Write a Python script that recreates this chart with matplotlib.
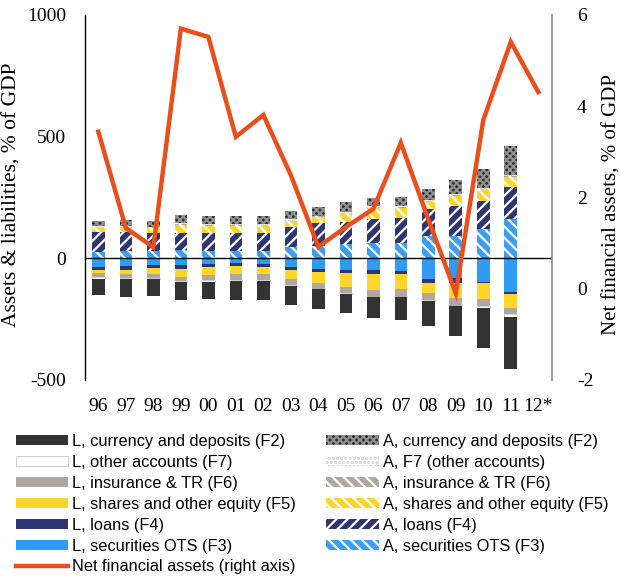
import numpy as np
import matplotlib.pyplot as plt

plt.rcParams['hatch.linewidth'] = 1.6
plt.rcParams['axes.unicode_minus'] = False

years = ['96', '97', '98', '99', '00', '01', '02', '03', '04', '05',
         '06', '07', '08', '09', '10', '11', '12*']

# liabilities, % of GDP (drawn below zero)
L_cur = [69, 74, 70, 73, 70, 78, 78, 77, 82, 78, 86, 95, 105, 123, 164, 215]
L_oth = [5, 4, 4, 4, 7, 4, 4, 4, 3, 4, 4, 3, 4, 4, 10, 10]
L_ins = [18, 14, 16, 19, 21, 25, 23, 23, 25, 27, 27, 30, 27, 30, 29, 27]
L_sha = [10, 18, 22, 34, 33, 33, 32, 38, 44, 55, 66, 63, 44, 62, 64, 56]
L_loa = [16, 16, 14, 15, 12, 11, 11, 14, 11, 14, 16, 12, 15, 23, 7, 10]
L_sec = [34, 32, 27, 27, 23, 21, 23, 34, 45, 48, 48, 52, 85, 79, 96, 137]

# assets, % of GDP
A_cur = [22, 25, 23, 33, 33, 34, 33, 34, 37, 40, 34, 36, 44, 59, 78, 119]
A_f7 = [3, 3, 3, 5, 6, 5, 5, 5, 3, 5, 5, 5, 5, 3, 6, 5]
A_ins = [2, 2, 2, 2, 2, 2, 2, 2, 1, 2, 2, 2, 2, 2, 2, 2]
A_sha = [18, 21, 22, 32, 30, 30, 32, 26, 27, 34, 45, 44, 32, 45, 48, 44]
A_loa = [82, 77, 71, 71, 73, 73, 73, 82, 93, 92, 99, 100, 110, 121, 116, 132]
A_sec = [27, 30, 32, 34, 30, 30, 30, 45, 51, 59, 62, 64, 92, 92, 119, 160]

# net financial assets, % of GDP (right axis)
net = [3.44, 1.33, 0.91, 5.70, 5.52, 3.33, 3.81, 2.49, 0.92, 1.35,
       1.75, 3.2, 1.52, -0.1, 3.70, 5.41, 4.31]

fig = plt.figure(figsize=(6.2, 5.76), dpi=100)
ax = fig.add_axes([0.1365, 0.3403, 0.7539, 0.6337])
ax2 = ax.twinx()

x = np.arange(len(years))
xb = x[:len(L_cur)]
w = 0.46

# liabilities stacked downward from zero
liab = [
    (L_sec, dict(color='#2E9BF5'), 'L, securities OTS (F3)'),
    (L_loa, dict(color='#2F3571'), 'L, loans (F4)'),
    (L_sha, dict(color='#FFD52A'), 'L, shares and other equity (F5)'),
    (L_ins, dict(color='#B0A89F'), 'L, insurance & TR (F6)'),
    (L_oth, dict(facecolor='white', edgecolor='#C8C8C8', linewidth=0.6), 'L, other accounts (F7)'),
    (L_cur, dict(color='#333333'), 'L, currency and deposits (F2)'),
]
handles = {}
bottom = np.zeros(len(xb))
for vals, style, name in liab:
    v = np.array(vals, dtype=float)
    handles[name] = ax.bar(xb, -v, w, bottom=bottom, label=name, **style)
    bottom -= v

# assets stacked upward
assets = [
    (A_sec, dict(facecolor='#3A9EF5', edgecolor='white', hatch='\\\\\\', linewidth=0), 'A, securities OTS (F3)'),
    (A_loa, dict(facecolor='#2F3571', edgecolor='white', hatch='///', linewidth=0), 'A, loans (F4)'),
    (A_sha, dict(facecolor='#FFD52A', edgecolor='white', hatch='\\\\\\', linewidth=0), 'A, shares and other equity (F5)'),
    (A_ins, dict(facecolor='#B0A89F', edgecolor='white', hatch='\\\\\\', linewidth=0), 'A, insurance & TR (F6)'),
    (A_f7, dict(facecolor='white', edgecolor='#D0D0D0', hatch='....', linewidth=0), 'A, F7 (other accounts)'),
    (A_cur, dict(facecolor='#2B2B2B', edgecolor='#909090', hatch='xxxxx', linewidth=0), 'A, currency and deposits (F2)'),
]
bottom = np.zeros(len(xb))
for vals, style, name in assets:
    v = np.array(vals, dtype=float)
    handles[name] = ax.bar(xb, v, w, bottom=bottom, label=name, **style)
    bottom += v

ax.axhline(0, color='black', lw=1.0, zorder=1)

ln, = ax2.plot(x, net, color='#E94E1B', lw=3.2, solid_joinstyle='miter',
               label='Net financial assets (right axis)')

ax.set_xlim(-0.5, 16.5)
ax.set_ylim(-500, 1000)
ax.set_yticks([-500, 0, 500, 1000])
ax2.set_ylim(-2, 6)
ax2.set_yticks([-2, 0, 2, 4, 6])
ax.set_xticks(x)
ax.set_xticklabels(years)

serif = 'Liberation Serif'
for lab in ax.get_yticklabels() + ax.get_xticklabels() + ax2.get_yticklabels():
    lab.set_fontfamily(serif)
    lab.set_fontsize(14)
ax.tick_params(axis='both', length=0)
ax.tick_params(axis='x', pad=13)
ax.tick_params(axis='y', pad=13.5)
ax2.tick_params(axis='y', length=0, pad=18)

for s in ['top', 'right', 'bottom']:
    ax.spines[s].set_visible(False)
for s in ['top', 'left', 'bottom']:
    ax2.spines[s].set_visible(False)
ax.spines['left'].set_linewidth(1.0)
ax2.spines['right'].set_color('#8C8C8C')
ax2.spines['right'].set_linewidth(1.2)

ax.set_ylabel('Assets & liabilities, % of GDP', fontfamily=serif, fontsize=15.5)
ax.yaxis.set_label_coords(-0.136, 0.507)
ax2.set_ylabel('Net financial assets, % of GDP', fontfamily=serif, fontsize=15)
ax2.yaxis.set_label_coords(1.107, 0.48)

order = ['L, currency and deposits (F2)', 'L, other accounts (F7)', 'L, insurance & TR (F6)',
         'L, shares and other equity (F5)', 'L, loans (F4)', 'L, securities OTS (F3)']
order2 = ['A, currency and deposits (F2)', 'A, F7 (other accounts)', 'A, insurance & TR (F6)',
          'A, shares and other equity (F5)', 'A, loans (F4)', 'A, securities OTS (F3)']
hl = [handles[n] for n in order] + [ln] + [handles[n] for n in order2]
labs = order + [ln.get_label()] + order2
fig.legend(hl, labs, loc='upper left', bbox_to_anchor=(0.025, 0.2465), ncol=2,
           frameon=False, prop={'family': 'Liberation Sans', 'size': 11.8},
           handlelength=3.2, handleheight=0.55, handletextpad=0.25,
           labelspacing=0.36, columnspacing=1.85, borderaxespad=0, borderpad=0)

fig.savefig('out.png', dpi=100)
